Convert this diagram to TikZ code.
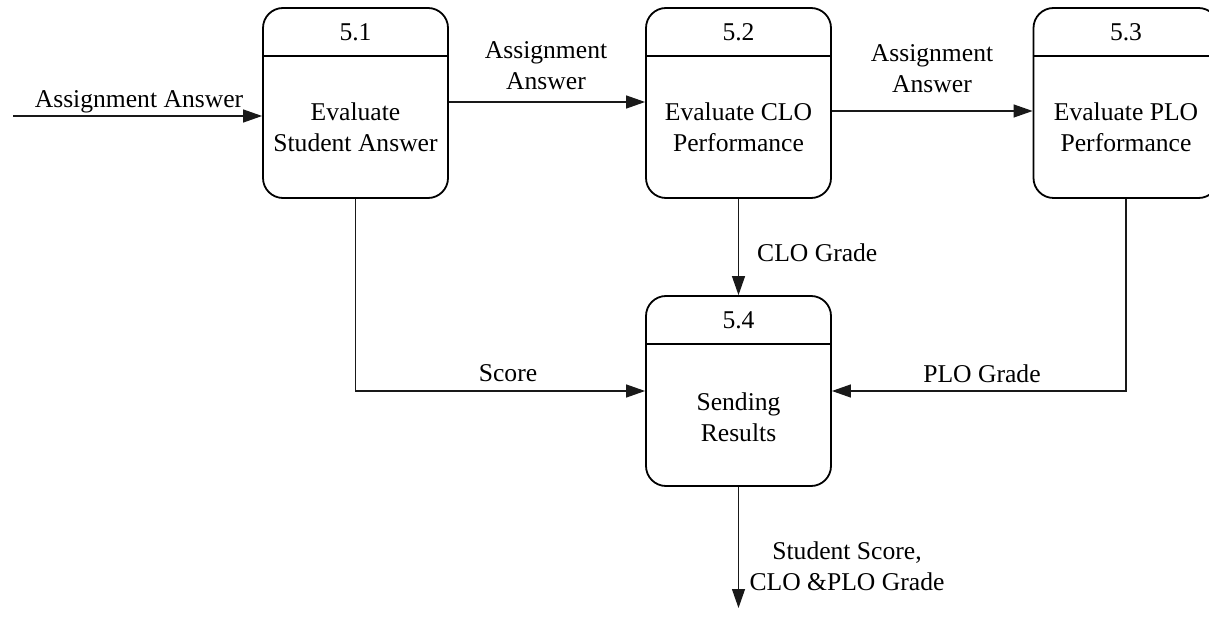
\documentclass[tikz,border=0pt]{standalone}
\usepackage{fontspec}
\setmainfont{Liberation Serif}
\usetikzlibrary{arrows.meta}
\begin{document}
\begin{tikzpicture}[x=1pt,y=-1pt,
  proc/.style={draw=black,line width=1.8pt,rounded corners=20pt,minimum width=185pt,minimum height=190pt,inner sep=0pt},
  hdr/.style={draw=black,line width=1.8pt},
  flow/.style={draw=black!90,line width=1.2pt,-{Triangle[length=19pt,width=13pt]}},
  lbl/.style={font=\fontsize{25.6}{31}\selectfont,align=center,inner sep=0pt},
  ]
\useasboundingbox (0,0) rectangle (1209,617);

% process boxes
\node[proc] (p51) at (355.5,103) {};
\node[proc] (p52) at (738.5,103) {};
\node[proc] (p53) at (1126,103) {};
\node[proc] (p54) at (738.5,391) {};

\foreach \b in {p51,p52,p53,p54}{
  \draw[hdr] (\b.north west) ++(0,49) -- ++(185,0);
}

\node[lbl] (t51) at (355.5,32) {5.1};
\node[lbl] (t52) at (738.5,32) {5.2};
\node[lbl] (t53) at (1126,32) {5.3};
\node[lbl] (t54) at (738.5,320) {5.4};

\node[lbl] (n51) at (355.5,127.5) {Evaluate\\Student Answer};
\node[lbl] (n52) at (738.5,127.5) {Evaluate CLO\\Performance};
\node[lbl] (n53) at (1126,127.5) {Evaluate PLO\\Performance};
\node[lbl] (n54) at (738.5,417) {Sending\\Results};

% connectors
\coordinate (in) at (13,116);
\draw[flow] (in) -- (in -| p51.west);
\node[lbl] (lin) at (139,102) {Assignment Answer};

\draw[flow] (p51.east |- 0,102) -- (p52.west |- 0,102);
\node[lbl] (l12) at (546,66) {Assignment\\Answer};

\draw[flow] (p52.east |- 0,111) -- (p53.west |- 0,111);
\node[lbl] (l23) at (932,69) {Assignment\\Answer};

\draw[flow] (p51.south) |- (p54.west);
\node[lbl] (lsc) at (508,373) {Score};

\draw[flow] (p52.south) -- (p54.north);
\node[lbl,anchor=west] (lclo) at (757,253) {CLO Grade};

\draw[flow] (p53.south) |- (p54.east);
\node[lbl] (lplo) at (982,374) {PLO Grade};

\coordinate (out) at (738.5,608);
\draw[flow] (p54.south) -- (out);
\node[lbl] (lout) at (847,566) {Student Score,\\CLO \&PLO Grade};
\end{tikzpicture}
\end{document}
